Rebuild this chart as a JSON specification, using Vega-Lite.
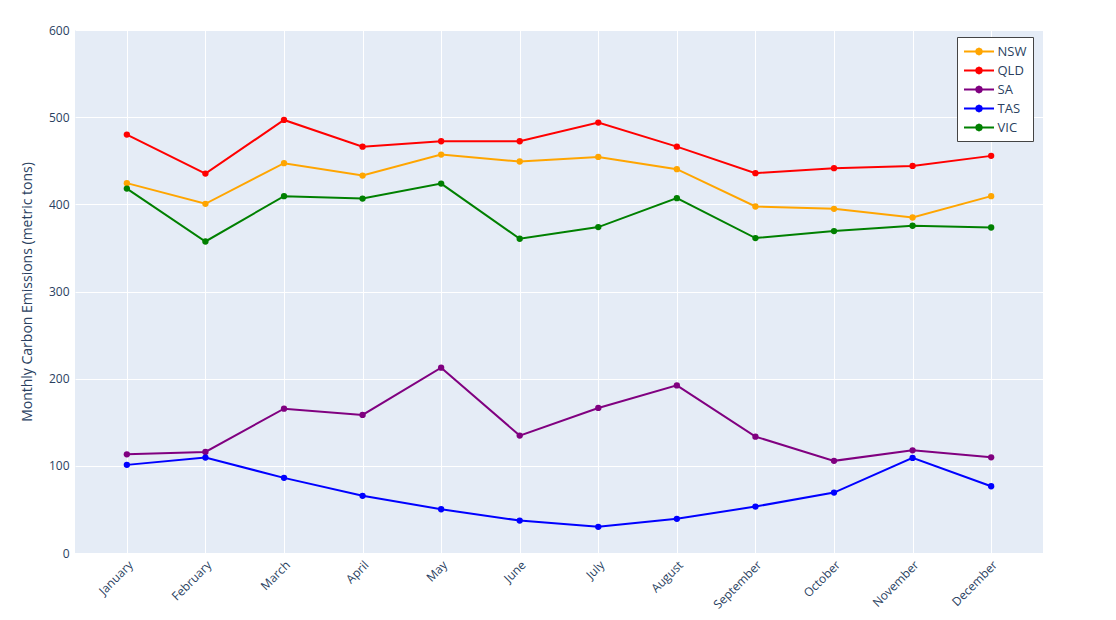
{
  "$schema": "https://vega.github.io/schema/vega-lite/v6.json",
  "autosize": {"type": "none"},
  "padding": {"left": 75, "top": 30, "right": 73, "bottom": 67},
  "width": 968,
  "height": 523,
  "background": "white",
  "config": {
    "font": "Open Sans",
    "view": {"fill": "#E5ECF6", "stroke": null},
    "axis": {"labelColor": "#2a3f5f", "titleColor": "#2a3f5f", "labelFont": "Open Sans", "titleFont": "Open Sans"}
  },
  "data": {
    "values": [
      {"month": "January", "state": "NSW", "value": 424.3},
      {"month": "February", "state": "NSW", "value": 400.6},
      {"month": "March", "state": "NSW", "value": 447.2},
      {"month": "April", "state": "NSW", "value": 433.0},
      {"month": "May", "state": "NSW", "value": 457.1},
      {"month": "June", "state": "NSW", "value": 449.1},
      {"month": "July", "state": "NSW", "value": 454.4},
      {"month": "August", "state": "NSW", "value": 440.3},
      {"month": "September", "state": "NSW", "value": 397.5},
      {"month": "October", "state": "NSW", "value": 394.8},
      {"month": "November", "state": "NSW", "value": 384.9},
      {"month": "December", "state": "NSW", "value": 409.4},
      {"month": "January", "state": "QLD", "value": 480.0},
      {"month": "February", "state": "QLD", "value": 435.3},
      {"month": "March", "state": "QLD", "value": 496.8},
      {"month": "April", "state": "QLD", "value": 466.2},
      {"month": "May", "state": "QLD", "value": 472.4},
      {"month": "June", "state": "QLD", "value": 472.4},
      {"month": "July", "state": "QLD", "value": 493.8},
      {"month": "August", "state": "QLD", "value": 466.2},
      {"month": "September", "state": "QLD", "value": 435.8},
      {"month": "October", "state": "QLD", "value": 441.5},
      {"month": "November", "state": "QLD", "value": 444.1},
      {"month": "December", "state": "QLD", "value": 455.6},
      {"month": "January", "state": "SA", "value": 113.2},
      {"month": "February", "state": "SA", "value": 116.0},
      {"month": "March", "state": "SA", "value": 165.6},
      {"month": "April", "state": "SA", "value": 158.4},
      {"month": "May", "state": "SA", "value": 212.6},
      {"month": "June", "state": "SA", "value": 134.7},
      {"month": "July", "state": "SA", "value": 166.4},
      {"month": "August", "state": "SA", "value": 192.3},
      {"month": "September", "state": "SA", "value": 133.5},
      {"month": "October", "state": "SA", "value": 105.7},
      {"month": "November", "state": "SA", "value": 117.8},
      {"month": "December", "state": "SA", "value": 109.8},
      {"month": "January", "state": "TAS", "value": 101.1},
      {"month": "February", "state": "TAS", "value": 109.5},
      {"month": "March", "state": "TAS", "value": 86.2},
      {"month": "April", "state": "TAS", "value": 65.6},
      {"month": "May", "state": "TAS", "value": 50.2},
      {"month": "June", "state": "TAS", "value": 37.2},
      {"month": "July", "state": "TAS", "value": 30.0},
      {"month": "August", "state": "TAS", "value": 39.2},
      {"month": "September", "state": "TAS", "value": 53.3},
      {"month": "October", "state": "TAS", "value": 69.3},
      {"month": "November", "state": "TAS", "value": 109.1},
      {"month": "December", "state": "TAS", "value": 76.6},
      {"month": "January", "state": "VIC", "value": 418.1},
      {"month": "February", "state": "VIC", "value": 357.4},
      {"month": "March", "state": "VIC", "value": 409.4},
      {"month": "April", "state": "VIC", "value": 406.6},
      {"month": "May", "state": "VIC", "value": 423.8},
      {"month": "June", "state": "VIC", "value": 360.5},
      {"month": "July", "state": "VIC", "value": 373.9},
      {"month": "August", "state": "VIC", "value": 407.1},
      {"month": "September", "state": "VIC", "value": 361.3},
      {"month": "October", "state": "VIC", "value": 369.3},
      {"month": "November", "state": "VIC", "value": 375.4},
      {"month": "December", "state": "VIC", "value": 373.4}
    ]
  },
  "encoding": {
    "x": {
      "field": "month", "type": "ordinal",
      "sort": ["January","February","March","April","May","June","July","August","September","October","November","December"],
      "scale": {"type": "point", "padding": 0.66},
      "axis": {"title": null, "labelAngle": -45, "labelAlign": "right", "labelBaseline": "top", "labelPadding": 6, "labelFontSize": 12, "ticks": false, "domain": false, "grid": true, "gridColor": "white", "gridWidth": 1}
    },
    "y": {
      "field": "value", "type": "quantitative",
      "scale": {"domain": [0, 600], "nice": false},
      "axis": {"title": "Monthly Carbon Emissions (metric tons)", "titleFontSize": 14, "titleFontWeight": "normal", "titlePadding": 14, "values": [0,100,200,300,400,500,600], "labelFontSize": 12, "labelPadding": 6, "ticks": false, "domain": false, "grid": true, "gridColor": "white", "gridWidth": 1}
    },
    "color": {
      "field": "state", "type": "nominal",
      "scale": {"domain": ["NSW","QLD","SA","TAS","VIC"], "range": ["#FFA500","#FF0000","#800080","#0000FF","#008000"]},
      "legend": {
        "title": null, "orient": "none", "legendX": 882, "legendY": 7,
        "fillColor": "white", "strokeColor": "#444444",
        "padding": 6, "rowPadding": 3, "labelFontSize": 13, "labelColor": "#2a3f5f", "labelFont": "Open Sans",
        "symbolType": "M-2,0L2,0M-0.4,0L-0.28,-0.28L0,-0.4L0.28,-0.28L0.4,0L0.28,0.28L0,0.4L-0.28,0.28Z",
        "symbolSize": 225, "symbolStrokeWidth": 2, "symbolOffset": 7.5, "labelOffset": 10
      }
    }
  },
  "layer": [
    {"mark": {"type": "line", "strokeWidth": 2}},
    {"mark": {"type": "point", "filled": true, "size": 40, "opacity": 1}}
  ]
}
